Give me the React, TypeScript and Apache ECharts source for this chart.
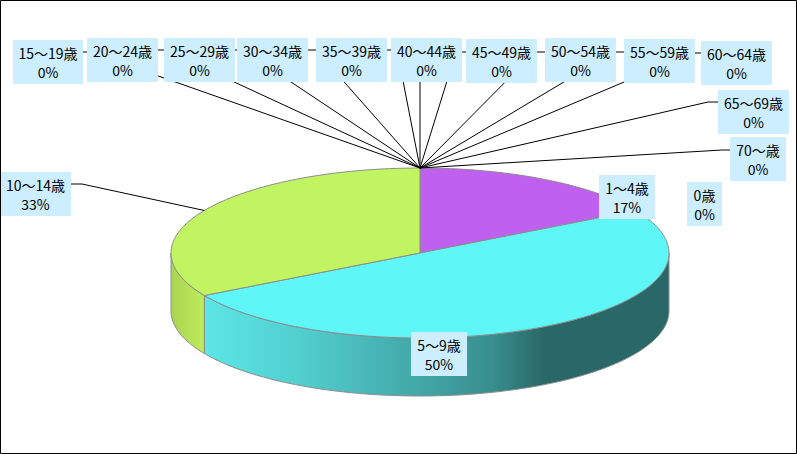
import React, { useEffect, useRef } from "react";
import * as echarts from "echarts";

const ageGroups = ["0歳", "1～4歳", "5～9歳", "10～14歳", "15～19歳", "20～24歳", "25～29歳", "30～34歳", "35～39歳", "40～44歳", "45～49歳", "50～54歳", "55～59歳", "60～64歳", "65～69歳", "70～歳"];
const counts = [0, 1, 3, 2, 0, 0, 0, 0, 0, 0, 0, 0, 0, 0, 0, 0];
const sliceColors = ["#6FA8DC", "#C060F0", "#5EF6F6", "#C0F460", "#999999", "#999999", "#999999", "#999999", "#999999", "#999999", "#999999", "#999999", "#999999", "#999999", "#999999", "#999999"];

// Chart layout: label boxes [x, y, width] and the points where each leader line leaves its box.
const boxes = [[687, 182, 35], [599, 175, 56], [411, 332, 56], [0, 172, 71], [13, 40, 70], [87, 38, 71], [164, 38, 71], [237, 38, 71], [316, 38, 71], [391, 38, 71], [466, 39, 71], [545, 38, 71], [624, 39, 71], [701, 41, 71], [718, 90, 71], [730, 137, 56]];
const leaderBends: (number[][] | null)[] = [null, null, null, [[71, 184], [82, 184]], [[83, 52], [90, 52]], [[158, 50], [165, 50]], [[235, 50], [243, 50]], [[308, 50], [316, 50]], [[387, 50], [397, 50]], [[420, 82], [420, 81]], [[466, 52], [456, 52]], [[545, 52], [535, 52]], [[624, 52], [614, 52]], [[701, 53], [693, 53]], [[718, 102], [708, 102]], [[730, 150], [722, 150]]];
const CX = 420, CY = 253, RX = 249, RY = 85, DEPTH = 58, BOX_H = 44;

const total = counts.reduce((a, b) => a + b, 0);
const startAngles: number[] = [];
counts.reduce((acc, v, i) => {
  startAngles[i] = acc;
  return acc + (v / total) * 360;
}, 0);
const pointAt = (deg: number, dy = 0) => {
  const r = (deg * Math.PI) / 180;
  return [CX + RX * Math.sin(r), CY - RY * Math.cos(r) + dy];
};
const arc = (a: number, b: number, dy = 0) => {
  const n = Math.max(1, Math.ceil(Math.abs(b - a)));
  const out: number[][] = [];
  for (let k = 0; k <= n; k++) out.push(pointAt(a + ((b - a) * k) / n, dy));
  return out;
};
const wallFill = (i: number) => {
  if (i === 2)
    return new echarts.graphic.LinearGradient(0, 0, 1, 0, [
      { offset: 0, color: "#5CE6E6" },
      { offset: 0.2, color: "#52CFCF" },
      { offset: 0.47, color: "#42A6A6" },
      { offset: 0.62, color: "#398E8E" },
      { offset: 0.73, color: "#2A6868" },
      { offset: 1, color: "#2A6868" },
    ]);
  return new echarts.graphic.LinearGradient(0, 0, 1, 0, [
    { offset: 0, color: "#A9D452" },
    { offset: 1, color: "#BDEC5A" },
  ]);
};

const stroke = { stroke: "#8C8C8C", lineWidth: 1 };

const renderSlice = (params: any, api: any) => {
  const i = params.dataIndex;
  const v = api.value(1);
  if (!v) return { type: "group", children: [] };
  const a = startAngles[i];
  const b = a + (v / total) * 360;
  const children: any[] = [];
  const wa = Math.max(a, 90);
  const wb = Math.min(b, 270);
  if (wb > wa) {
    children.push({
      type: "polygon",
      z2: 1,
      shape: { points: [...arc(wa, wb), ...arc(wb, wa, DEPTH)] },
      style: { fill: wallFill(i), ...stroke },
    });
  }
  children.push({
    type: "polygon",
    z2: 2,
    shape: { points: [[CX, CY], ...arc(a, b)] },
    style: { fill: sliceColors[i], ...stroke },
  });
  return { type: "group", children };
};

const renderLeader = (params: any, api: any) => {
  const i = params.dataIndex;
  const v = api.value(1);
  const bend = leaderBends[i];
  if (!bend) return { type: "group", children: [] };
  const anchor = pointAt(startAngles[i] + ((v / total) * 360) / 2);
  return {
    type: "polyline",
    shape: { points: [...bend, anchor] },
    style: { fill: "none", stroke: "#000000", lineWidth: 1 },
  };
};

const renderLabel = (params: any, api: any) => {
  const i = params.dataIndex;
  const v = api.value(1);
  const [x, y, w] = boxes[i];
  const font = "14px 'Noto Sans CJK JP', 'Noto Sans', sans-serif";
  return {
    type: "group",
    children: [
      { type: "rect", shape: { x, y, width: w, height: BOX_H }, style: { fill: "#CCEEFF" } },
      { type: "text", z2: 2, style: { x: x + w / 2, y: y + 13, text: ageGroups[i], font, fill: "#000", align: "center", verticalAlign: "middle" } },
      { type: "text", z2: 2, style: { x: x + w / 2, y: y + 32, text: `${Math.round((v / total) * 100)}%`, font, fill: "#000", align: "center", verticalAlign: "middle" } },
    ],
  };
};

export default function App() {
  const ref = useRef<HTMLDivElement>(null);
  useEffect(() => {
    const chart = echarts.init(ref.current!, null, { renderer: "svg" });
    const data = ageGroups.map((n, i) => [i, counts[i]]);
    const custom = (renderItem: any, z: number) => ({ type: "custom", coordinateSystem: "none", silent: true, z, data, renderItem });
    chart.setOption({
      animation: false,
      backgroundColor: "#FFFFFF",
      series: [custom(renderSlice, 2), custom(renderLeader, 3), custom(renderLabel, 4)],
      graphic: [{ type: "rect", z: 10, silent: true, shape: { x: 0.5, y: 0.5, width: 796, height: 453 }, style: { fill: "none", stroke: "#000", lineWidth: 1 } }],
    });
    return () => chart.dispose();
  }, []);
  return <div ref={ref} style={{ position: "fixed", left: 0, top: 0, width: 797, height: 454 }} />;
}
